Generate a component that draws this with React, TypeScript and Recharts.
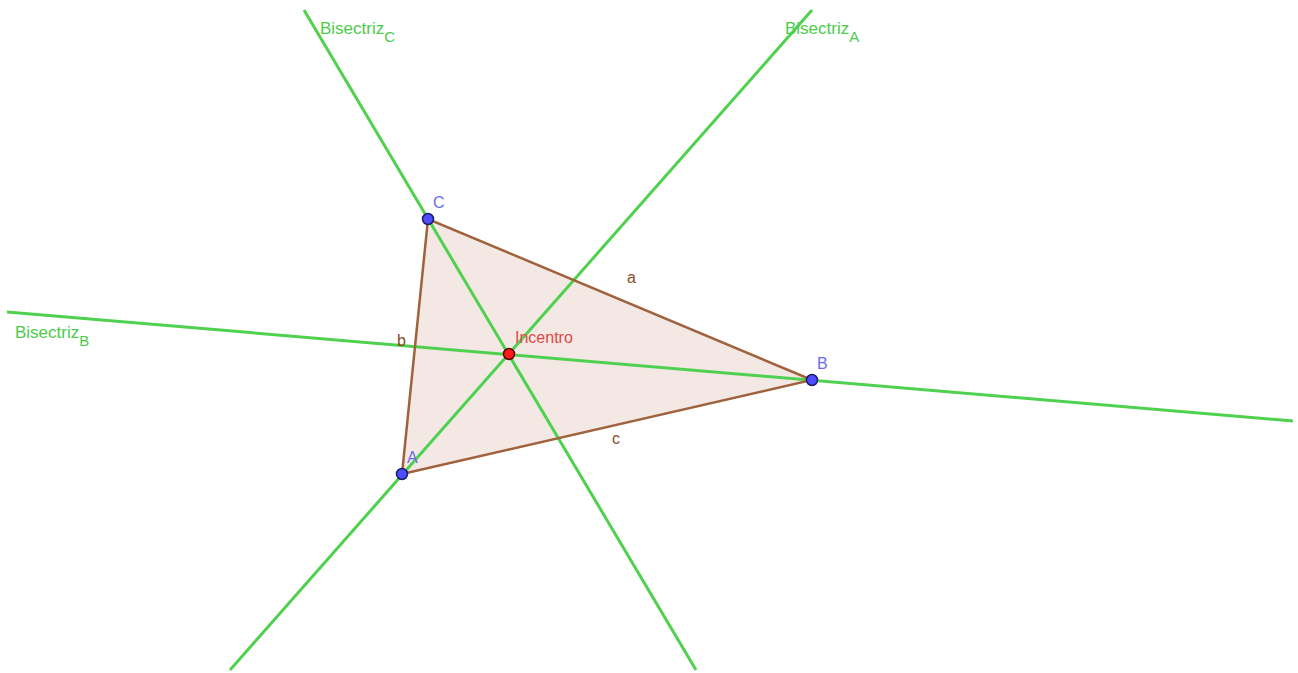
import { Area, ComposedChart, Scatter, XAxis, YAxis } from "recharts";

// vertices and incentre, in picture units (y grows downward)
const vertices = [
  { name: "A", x: 402, y: 474, lx: 407, ly: 463 },
  { name: "C", x: 428, y: 219, lx: 433, ly: 208 },
  { name: "B", x: 812, y: 380, lx: 817, ly: 369 },
];
const incentro = [{ name: "Incentro", x: 509, y: 354, lx: 515, ly: 343 }];

const triangleEdges = [
  { x: 402, y: 474 },
  { x: 428, y: 219 },
  { x: 812, y: 380 },
  { x: 402, y: 474 },
];

// fill of the triangle as a ranged area: [lower edge, upper edge]
const triangleFill = [
  { x: 402, range: [474, 474] },
  { x: 428, range: [468, 219] },
  { x: 812, range: [380, 380] },
];

const bisectrizA = [
  { x: 812, y: 10 },
  { x: 230, y: 670 },
];
const bisectrizB = [
  { x: 7, y: 312 },
  { x: 1293, y: 421 },
];
const bisectrizC = [
  { x: 304, y: 10 },
  { x: 696, y: 670 },
];

const lineLabels = [
  { x: 320, y: 34, text: "Bisectriz", sub: "C" },
  { x: 785, y: 34, text: "Bisectriz", sub: "A" },
  { x: 15, y: 338, text: "Bisectriz", sub: "B" },
];
const sideLabels = [
  { x: 627, y: 283, text: "a" },
  { x: 397, y: 346, text: "b" },
  { x: 612, y: 444, text: "c" },
];

const GREEN = "#4fd14f";
const BROWN = "#a0623c";

const noDot = () => <g />;

function LineLabel(props: any) {
  const { cx, cy, payload } = props;
  return (
    <text x={cx} y={cy} fill="#4ccc4c" fontSize={17} fontFamily="Liberation Sans, Arial, sans-serif">
      {payload.text}
      <tspan dy={8} fontSize={15}>
        {payload.sub}
      </tspan>
    </text>
  );
}

function SideLabel(props: any) {
  const { cx, cy, payload } = props;
  return (
    <text x={cx} y={cy} fill="#8c4a2a" fontSize={16} fontFamily="Liberation Sans, Arial, sans-serif">
      {payload.text}
    </text>
  );
}

function PointDot(color: string, stroke: string, labelColor: string) {
  return (props: any) => {
    const { cx, cy, payload } = props;
    const xScale = cx - payload.x;
    return (
      <g>
        <circle cx={cx} cy={cy} r={5.5} fill={color} stroke={stroke} strokeWidth={1.5} />
        <text
          x={payload.lx + xScale}
          y={cy + (payload.ly - payload.y)}
          fill={labelColor}
          fontSize={16}
          fontFamily="Liberation Sans, Arial, sans-serif"
        >
          {payload.name}
        </text>
      </g>
    );
  };
}

export default function App() {
  return (
    <div style={{ position: "absolute", left: 0, top: 0, background: "#ffffff" }}>
      <ComposedChart width={1298} height={673} margin={{ top: 0, right: 0, bottom: 0, left: 0 }}>
        <XAxis type="number" dataKey="x" domain={[0, 1298]} hide allowDataOverflow />
        <YAxis type="number" dataKey="y" domain={[0, 673]} reversed hide allowDataOverflow />
        <Area
          data={triangleFill}
          dataKey="range"
          type="linear"
          stroke="none"
          fill="#f3e8e4"
          fillOpacity={1}
          isAnimationActive={false}
          dot={false}
          activeDot={false}
        />
        <Scatter data={bisectrizA} line={{ stroke: GREEN, strokeWidth: 3 }} lineType="joint" shape={noDot} isAnimationActive={false} />
        <Scatter data={bisectrizB} line={{ stroke: GREEN, strokeWidth: 3 }} lineType="joint" shape={noDot} isAnimationActive={false} />
        <Scatter data={bisectrizC} line={{ stroke: GREEN, strokeWidth: 3 }} lineType="joint" shape={noDot} isAnimationActive={false} />
        <Scatter data={triangleEdges} line={{ stroke: BROWN, strokeWidth: 2.5 }} lineType="joint" shape={noDot} isAnimationActive={false} />
        <Scatter data={lineLabels} shape={LineLabel} isAnimationActive={false} />
        <Scatter data={sideLabels} shape={SideLabel} isAnimationActive={false} />
        <Scatter data={vertices} shape={PointDot("#4d4dff", "#1a1a66", "#6b6bef")} isAnimationActive={false} />
        <Scatter data={incentro} shape={PointDot("#ff1a1a", "#5a0000", "#e04848")} isAnimationActive={false} />
      </ComposedChart>
    </div>
  );
}
